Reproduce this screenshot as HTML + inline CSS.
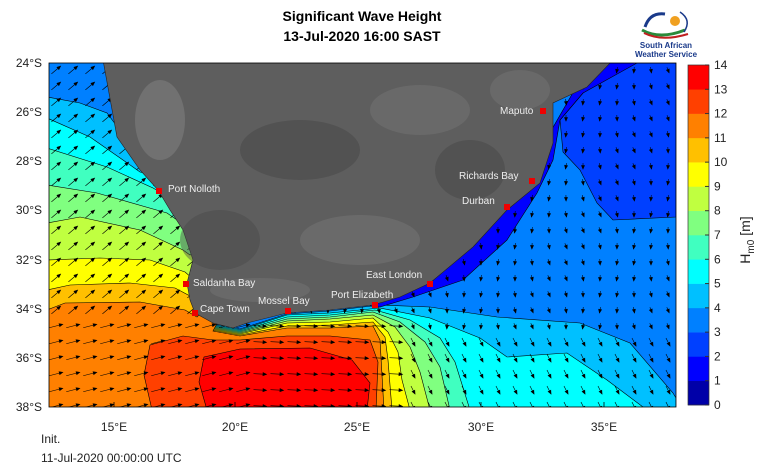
<!DOCTYPE html>
<html><head><meta charset="utf-8"><style>
html,body{margin:0;padding:0;background:#fff;}
svg{display:block;font-family:"Liberation Sans",Arial,sans-serif;}
</style></head><body>
<svg id="s" width="768" height="472" viewBox="0 0 768 472" xmlns="http://www.w3.org/2000/svg">
<defs><clipPath id="pc"><rect x="49" y="63" width="627" height="344"/></clipPath></defs>
<text x="362" y="21" text-anchor="middle" font-size="14" font-weight="bold">Significant Wave Height</text>
<text x="362" y="41" text-anchor="middle" font-size="14" font-weight="bold">13-Jul-2020 16:00 SAST</text>
<g>
<path d="M645 27 Q650 12 665 14" stroke="#1a3a8a" stroke-width="3" fill="none"/>
<path d="M642 30 Q660 40 685 30" stroke="#2a8a3a" stroke-width="3" fill="none"/>
<path d="M644 33 Q662 42 688 34" stroke="#c02020" stroke-width="2" fill="none"/>
<circle cx="675" cy="21" r="5" fill="#f0a020"/>
<path d="M680 12 Q692 20 684 32" stroke="#1a3a8a" stroke-width="1.5" fill="none"/>
<text x="666" y="48" text-anchor="middle" font-size="8" font-weight="bold" fill="#1a3a8a">South African</text>
<text x="666" y="57" text-anchor="middle" font-size="8" font-weight="bold" fill="#1a3a8a">Weather Service</text>
</g>
<g clip-path="url(#pc)" stroke="#000" stroke-width="0.6">
<rect x="49" y="63" width="627" height="344" fill="#0080ff" stroke="none"/>
<polygon fill="#0040ff" points="620,63 676,63 676,217 613,220 597,203 580,170 563,152 560,120 583,93"/>
<polygon fill="#00c0ff" points="47,97 80,103 107,113 116,125 250,200 213,324 240,329 287,314 330,311 380,305 430,307 497,317 580,323 630,343 673,393 676,398 676,410 47,410"/>
<polygon fill="#00ffff" points="47,118 90,137 133,167 140,172 250,200 213,325 240,330 287,315 330,313 380,308 430,318 480,338 507,357 567,353 607,380 647,410 47,410"/>
<polygon fill="#40ffc0" points="47,148 107,167 153,188 160,192 250,200 213,326 240,331 287,317 330,315 375,310 410,320 440,338 455,362 470,410 47,410"/>
<polygon fill="#80ff80" points="47,185 97,193 167,213 177,220 250,220 213,327 240,332 287,319 330,317 373,312 400,322 425,342 440,367 450,410 47,410"/>
<polygon fill="#c0ff40" points="47,223 80,217 140,230 183,250 190,255 250,230 213,328 240,333 287,321 330,319 373,315 395,327 410,347 420,372 430,410 47,410"/>
<polygon fill="#ffff00" points="47,260 100,258 150,260 185,272 192,278 250,240 213,329 240,334 287,323 330,322 373,318 388,332 398,352 402,380 410,410 47,410"/>
<polygon fill="#ffc000" points="47,290 70,285 130,283 175,288 192,297 250,250 213,330 240,335 287,326 330,325 373,322 385,337 388,360 392,410 47,410"/>
<polygon fill="#ff8000" points="47,310 65,303 140,302 185,310 197,317 250,260 213,331 240,336 287,328 330,328 373,326 380,340 384,410 47,410"/>
<polygon fill="#ff4000" points="152,410 144,375 150,345 183,336 213,340 240,340 287,336 330,336 370,340 378,362 376,410"/>
<polygon fill="#ff0000" points="207,410 199,382 204,357 240,349 310,348 352,360 370,383 367,410"/>
<polygon fill="#0000ff" points="605,63 637,63 583,93 560,120 553,160 537,193 507,240 463,280 413,297 380,307 370,306 540,150 590,63"/>
<g id="arrows" stroke="#000" stroke-width="0.6" fill="#000"></g>
<polygon fill="#5e5e5e" stroke="#222" stroke-width="0.6" points="103,60 117,137 140,170 158,190 170,210 183,230 193,260 187,283 190,300 195,313 213,323 233,328 247,323 287,313 330,310 373,305 400,297 430,283 473,247 507,210 540,183 553,143 553,103 587,87 613,60"/>
<g stroke="none" opacity="0.45">
<ellipse cx="300" cy="150" rx="60" ry="30" fill="#444"/>
<ellipse cx="420" cy="110" rx="50" ry="25" fill="#777"/>
<ellipse cx="220" cy="240" rx="40" ry="30" fill="#4a4a4a"/>
<ellipse cx="360" cy="240" rx="60" ry="25" fill="#7a7a7a"/>
<ellipse cx="470" cy="170" rx="35" ry="30" fill="#444"/>
<ellipse cx="160" cy="120" rx="25" ry="40" fill="#888"/>
<ellipse cx="260" cy="290" rx="50" ry="12" fill="#777"/>
<ellipse cx="520" cy="90" rx="30" ry="20" fill="#777"/>
</g>
</g>
<rect x="49" y="63" width="627" height="344" fill="none" stroke="#000" stroke-width="0.8"/>
<g fill="#e00" stroke="none">
<rect x="540" y="108" width="6" height="6"/><rect x="529" y="178" width="6" height="6"/>
<rect x="504" y="204" width="6" height="6"/><rect x="427" y="281" width="6" height="6"/>
<rect x="372" y="302" width="6" height="6"/><rect x="285" y="308" width="6" height="6"/>
<rect x="192" y="310" width="6" height="6"/><rect x="183" y="281" width="6" height="6"/>
<rect x="156" y="188" width="6" height="6"/>
</g>
<g fill="#eee" font-size="10">
<text x="500" y="114">Maputo</text><text x="459" y="179">Richards Bay</text>
<text x="462" y="204">Durban</text><text x="366" y="278">East London</text>
<text x="331" y="298">Port Elizabeth</text><text x="258" y="304">Mossel Bay</text>
<text x="200" y="312">Cape Town</text><text x="193" y="286">Saldanha Bay</text>
<text x="168" y="192">Port Nolloth</text>
</g>
<g font-size="12" fill="#222" text-anchor="end">
<text x="42" y="67">24°S</text><text x="42" y="116">26°S</text><text x="42" y="165">28°S</text>
<text x="42" y="214">30°S</text><text x="42" y="264">32°S</text><text x="42" y="313">34°S</text>
<text x="42" y="362">36°S</text><text x="42" y="411">38°S</text>
</g>
<g stroke="#000" stroke-width="0.8">
<line x1="114" y1="407" x2="114" y2="402"/><line x1="235" y1="407" x2="235" y2="402"/>
<line x1="357" y1="407" x2="357" y2="402"/><line x1="481" y1="407" x2="481" y2="402"/>
<line x1="604" y1="407" x2="604" y2="402"/>
</g>
<g font-size="12" fill="#222" text-anchor="middle">
<text x="114" y="431">15°E</text><text x="235" y="431">20°E</text><text x="357" y="431">25°E</text>
<text x="481" y="431">30°E</text><text x="604" y="431">35°E</text>
</g>
<text x="41" y="443" font-size="12" fill="#222">Init.</text>
<text x="41" y="462" font-size="12" fill="#222">11-Jul-2020 00:00:00 UTC</text>
<g id="cb"></g>
<rect x="688" y="65" width="21" height="340" fill="none" stroke="#333" stroke-width="0.7"/>
<text transform="translate(750,240) rotate(-90)" text-anchor="middle" font-size="14" fill="#222">H<tspan font-size="10" dy="4">m0</tspan><tspan dy="-4"> [m]</tspan></text>
</svg>
<script>
var ns="http://www.w3.org/2000/svg";
var cols=["#0000a8","#0000ff","#0040ff","#0080ff","#00c0ff","#00ffff","#40ffc0","#80ff80","#c0ff40","#ffff00","#ffc000","#ff8000","#ff4000","#ff0000"];
var cb=document.getElementById("cb"),h=340/14;
for(var i=0;i<14;i++){var r=document.createElementNS(ns,"rect");r.setAttribute("x",688);r.setAttribute("y",405-(i+1)*h);r.setAttribute("width",21);r.setAttribute("height",h+0.3);r.setAttribute("fill",cols[i]);cb.appendChild(r);}
for(var i=0;i<=14;i++){var t=document.createElementNS(ns,"text");t.setAttribute("x",714);t.setAttribute("y",405-i*h+4);t.setAttribute("font-size","12");t.setAttribute("fill","#222");t.textContent=i;cb.appendChild(t);
var l=document.createElementNS(ns,"line");l.setAttribute("x1",705);l.setAttribute("x2",709);l.setAttribute("y1",405-i*h);l.setAttribute("y2",405-i*h);l.setAttribute("stroke","#333");cb.appendChild(l);}
var g=document.getElementById("arrows");
for(var y=70;y<407;y+=16){for(var x=56;x<676;x+=17){
 var a,L;
 if(x<260){a=y>320?-0.25:-0.7;L=y>320?14:12;}
 else if(x<400&&y>320){a=0.05;L=13;}
 else if(y>330){a=1.1;L=9;}
 else {a=1.45+0.3*Math.sin(x*0.05+y*0.03);L=6;}
 var dx=Math.cos(a)*L,dy=Math.sin(a)*L;
 var ln=document.createElementNS(ns,"line");ln.setAttribute("x1",x-dx/2);ln.setAttribute("y1",y-dy/2);ln.setAttribute("x2",x+dx/2);ln.setAttribute("y2",y+dy/2);g.appendChild(ln);
 var hx=x+dx/2,hy=y+dy/2,ux=dx/L,uy=dy/L;
 var p=document.createElementNS(ns,"polygon");
 p.setAttribute("points",hx+","+hy+" "+(hx-ux*3.5-uy*1.5)+","+(hy-uy*3.5+ux*1.5)+" "+(hx-ux*3.5+uy*1.5)+","+(hy-uy*3.5-ux*1.5));
 g.appendChild(p);
}}
</script>
</body></html>
